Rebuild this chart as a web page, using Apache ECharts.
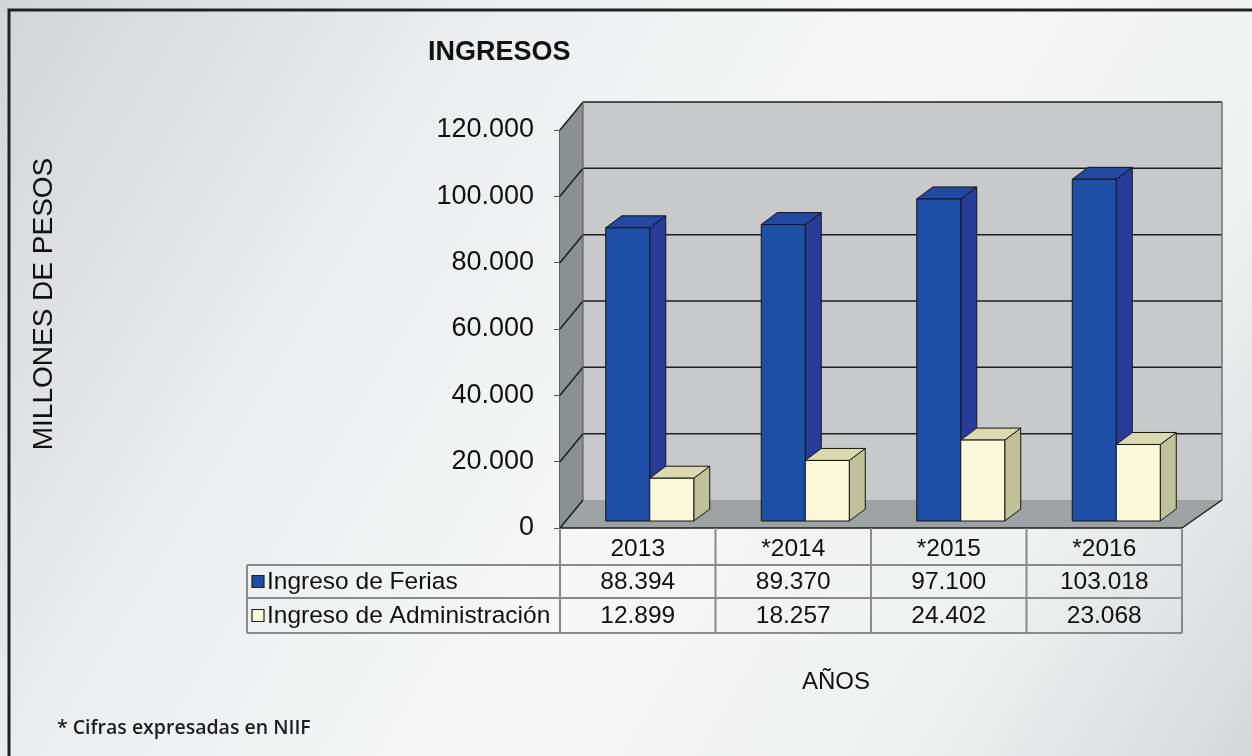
<!DOCTYPE html>
<html>
<head>
<meta charset="utf-8">
<script src="https://cdn.jsdelivr.net/npm/echarts@6/dist/echarts.min.js"></script>
<style>
  html, body { margin: 0; padding: 0; }
  #main { width: 1252px; height: 756px; }
</style>
</head>
<body>
<div id="main"></div>
<script>
const years = ['2013', '*2014', '*2015', '*2016'];
const ferias = [88394, 89370, 97100, 103018];
const admin = [12899, 18257, 24402, 23068];
const seriesNames = ['Ingreso de Ferias', 'Ingreso de Administración'];
const yTicks = [0, 20000, 40000, 60000, 80000, 100000, 120000];

const GRID = { left: 560, top: 130, width: 622, height: 398 };
const FONT = '"Liberation Sans", Arial, sans-serif';

const blue = { front: '#1d4fa6', side: '#293b98', top: '#2248a2', legend: '#1d4fa6' };
const cream = { front: '#fbf8da', side: '#c0c199', top: '#dbd9af', legend: '#fbf8da' };

function fmt(v) {
  return String(v).replace(/\B(?=(\d{3})+(?!\d))/g, '.');
}

// 3d bar: side 0 = left bar of the pair, 1 = right bar
function bar3d(side, colors) {
  return function (params, api) {
    const cat = api.value(0);
    const top = api.coord([cat, api.value(1)]);
    const base = api.coord([cat, 0]);
    const w = api.size([1, 0])[0] * 0.283;
    const x0 = top[0] + 12 + (side === 0 ? -w : 0);
    const x1 = x0 + w;
    const y0 = top[1] - 7;
    const y1 = base[1] - 7;
    const dx = 16, dy = -12;
    const line = { stroke: '#141414', lineWidth: 1 };
    return {
      type: 'group',
      children: [
        { type: 'polygon', shape: { points: [[x1, y0], [x1 + dx, y0 + dy], [x1 + dx, y1 + dy], [x1, y1]] },
          style: Object.assign({ fill: colors.side }, line) },
        { type: 'polygon', shape: { points: [[x0, y0], [x0 + dx, y0 + dy], [x1 + dx, y0 + dy], [x1, y0]] },
          style: Object.assign({ fill: colors.top }, line) },
        { type: 'rect', shape: { x: x0, y: y0, width: w, height: y1 - y0 },
          style: Object.assign({ fill: colors.front }, line) }
      ]
    };
  };
}

// walls, floor and gridlines
function frameItem(params, api) {
  const cs = params.coordSys;
  const fx0 = cs.x, fx1 = cs.x + cs.width;
  const bx0 = fx0 + 23, bx1 = fx1 + 40;
  const dy = -28;
  const yTop = api.coord([0, yTicks[yTicks.length - 1]])[1];
  const yBase = api.coord([0, 0])[1];
  const dark = { stroke: '#1e1e1e', lineWidth: 1.5 };
  const children = [
    { type: 'rect', shape: { x: bx0, y: yTop + dy, width: bx1 - bx0, height: yBase - yTop },
      style: { fill: '#c7c9cb' } },
    { type: 'polygon', shape: { points: [[fx0, yTop], [bx0, yTop + dy], [bx0, yBase + dy], [fx0, yBase]] },
      style: { fill: '#8b9093' } },
    { type: 'polygon', shape: { points: [[fx0, yBase], [bx0, yBase + dy], [bx1, yBase + dy], [fx1, yBase]] },
      style: { fill: '#9ea2a5' } }
  ];
  yTicks.forEach(function (v) {
    const y = api.coord([0, v])[1];
    if (v > 0) {
      children.push({ type: 'line', shape: { x1: bx0, y1: y + dy, x2: bx1, y2: y + dy }, style: dark });
    }
    children.push({ type: 'line', shape: { x1: fx0, y1: y, x2: bx0, y2: y + dy }, style: dark });
  });
  children.push({ type: 'line', shape: { x1: bx1, y1: yTop + dy, x2: bx1, y2: yBase + dy }, style: { stroke: '#6f7375', lineWidth: 1.5 } });
  children.push({ type: 'line', shape: { x1: bx0, y1: yTop + dy, x2: bx0, y2: yBase + dy }, style: { stroke: '#555', lineWidth: 1 } });
  children.push({ type: 'line', shape: { x1: fx0, y1: yBase, x2: fx1, y2: yBase }, style: dark });
  children.push({ type: 'line', shape: { x1: fx1, y1: yBase, x2: bx1, y2: yBase + dy }, style: dark });
  return { type: 'group', children: children };
}

// data table below the plot
function tableGraphics() {
  const g = [];
  const colW = GRID.width / years.length;
  const yHead = GRID.top + GRID.height;
  const rows = [yHead, 565, 598, 633];
  const tLeft = 247, tRight = GRID.left + GRID.width;
  const border = { stroke: '#8a8a8a', lineWidth: 2 };
  [rows[1], rows[2], rows[3]].forEach(function (y) {
    g.push({ type: 'line', shape: { x1: tLeft, y1: y, x2: tRight, y2: y }, style: border, z: 5 });
  });
  g.push({ type: 'line', shape: { x1: tLeft, y1: rows[1], x2: tLeft, y2: rows[3] }, style: border, z: 5 });
  for (let i = 0; i <= years.length; i++) {
    const x = GRID.left + i * colW;
    g.push({ type: 'line', shape: { x1: x, y1: rows[0], x2: x, y2: rows[3] }, style: border, z: 5 });
  }
  const cellText = function (txt, x, y) {
    return { type: 'text', x: x, y: y, z: 6,
      style: { text: txt, font: '24.5px ' + FONT, fill: '#111', align: 'center', verticalAlign: 'middle' } };
  };
  years.forEach(function (yr, i) {
    const cx = GRID.left + (i + 0.5) * colW;
    g.push(cellText(yr, cx, (rows[0] + rows[1]) / 2 + 3));
    g.push(cellText(fmt(ferias[i]), cx, (rows[1] + rows[2]) / 2 + 1));
    g.push(cellText(fmt(admin[i]), cx, (rows[2] + rows[3]) / 2 + 1));
  });
  [blue, cream].forEach(function (c, k) {
    const yc = (rows[k + 1] + rows[k + 2]) / 2;
    g.push({ type: 'rect', z: 6, shape: { x: 252, y: yc - 6, width: 12, height: 12 },
      style: { fill: c.legend, stroke: '#222', lineWidth: 1.2 } });
    g.push({ type: 'text', x: 267, y: yc + 1, z: 6,
      style: { text: seriesNames[k], font: '24.5px ' + FONT, fill: '#111', verticalAlign: 'middle' } });
  });
  return g;
}

const chart = echarts.init(document.getElementById('main'));

const option = {
  animation: false,
  backgroundColor: {
    type: 'linear', x: 0, y: 0, x2: 1, y2: 1,
    colorStops: [
      { offset: 0, color: '#d2d6d8' },
      { offset: 0.3, color: '#eceeef' },
      { offset: 0.55, color: '#f7f7f7' },
      { offset: 0.8, color: '#eff0f0' },
      { offset: 1, color: '#d5d8da' }
    ]
  },
  title: {
    text: 'INGRESOS',
    left: 423,
    top: 34,
    textStyle: { fontFamily: FONT, fontSize: 27, fontWeight: 'bold', color: '#111' }
  },
  grid: GRID,
  xAxis: {
    type: 'category',
    data: years,
    axisLine: { show: false },
    axisTick: { show: false },
    axisLabel: { show: false }
  },
  yAxis: {
    type: 'value',
    min: 0,
    max: 120000,
    interval: 20000,
    axisLine: { show: true, lineStyle: { color: '#333', width: 1.5 } },
    axisTick: { show: true, length: 6, lineStyle: { color: '#555' } },
    axisLabel: { fontFamily: FONT, fontSize: 27, color: '#111', margin: 26, formatter: fmt },
    splitLine: { show: false }
  },
  series: [
    { type: 'custom', name: 'frame', renderItem: frameItem, data: [[0, 0]], z: 1, silent: true },
    { type: 'custom', name: seriesNames[0], renderItem: bar3d(0, blue), data: ferias.map(function (v, i) { return [i, v]; }), z: 2 },
    { type: 'custom', name: seriesNames[1], renderItem: bar3d(1, cream), data: admin.map(function (v, i) { return [i, v]; }), z: 3 }
  ],
  graphic: [
    { type: 'polyline', shape: { points: [[9, 756], [9, 10], [1252, 10]] }, style: { stroke: '#222', lineWidth: 3, fill: null } },
    { type: 'text', x: 44, y: 304, rotation: Math.PI / 2,
      style: { text: 'MILLONES DE PESOS', font: '28px ' + FONT, fill: '#111', align: 'center', verticalAlign: 'middle' } },
    { type: 'text', x: 836, y: 682,
      style: { text: 'AÑOS', font: '24px ' + FONT, fill: '#111', align: 'center', verticalAlign: 'middle' } },
    { type: 'text', x: 57, y: 728,
      style: { text: '* Cifras expresadas en NIIF', font: '600 19.5px "Open Sans", sans-serif', fill: '#1c1c28', verticalAlign: 'middle' } }
  ].concat(tableGraphics())
};

chart.setOption(option);
</script>
</body>
</html>
